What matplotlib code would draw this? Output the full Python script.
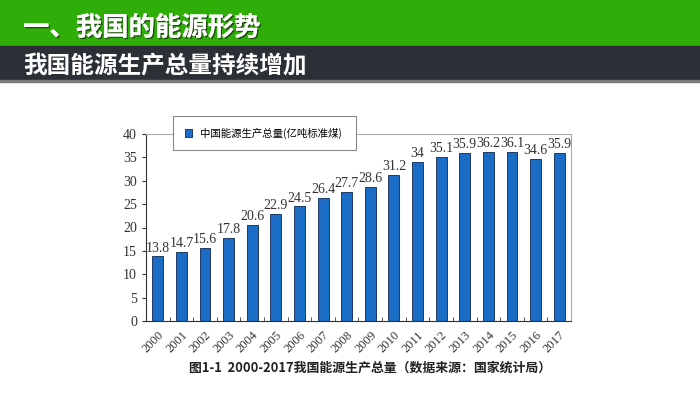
import matplotlib.pyplot as plt
import matplotlib.patches as mpatches
import matplotlib.patheffects as pe

plt.rcParams['font.family'] = ['Liberation Serif', 'Noto Sans CJK SC']

# 数据
years = ['2000', '2001', '2002', '2003', '2004', '2005', '2006', '2007', '2008',
         '2009', '2010', '2011', '2012', '2013', '2014', '2015', '2016', '2017']
output = [13.8, 14.7, 15.6, 17.8, 20.6, 22.9, 24.5, 26.4, 27.7,
          28.6, 31.2, 34, 35.1, 35.9, 36.2, 36.1, 34.6, 35.9]
yticks = [0, 5, 10, 15, 20, 25, 30, 35, 40]

fig = plt.figure(figsize=(7, 3.93), dpi=100)

# 顶部标题栏
fig.patches.append(mpatches.Rectangle((0, 1 - 46 / 393), 1, 46 / 393, transform=fig.transFigure,
                                      color='#2fae0a', zorder=0))
fig.patches.append(mpatches.Rectangle((0, 1 - 80 / 393), 1, 34 / 393, transform=fig.transFigure,
                                      color='#2a3035', zorder=0))
fig.patches.append(mpatches.Rectangle((0, 1 - 81.5 / 393), 1, 1.5 / 393, transform=fig.transFigure,
                                      color='#7a7a7a', zorder=0))
shadow = [pe.withSimplePatchShadow(offset=(1, -1), shadow_rgbFace='#1a3a10', alpha=0.8), pe.Normal()]
fig.text(23 / 700, 1 - 28 / 393, '一、我国的能源形势', color='white', fontsize=19, fontweight='bold',
         family='Noto Sans CJK SC', va='center', ha='left', path_effects=shadow)
fig.text(23 / 700, 1 - 66 / 393, '我国能源生产总量持续增加', color='white', fontsize=17, fontweight='bold',
         family='Noto Sans CJK SC', va='center', ha='left')

ax = fig.add_axes([146 / 700, 1 - 321 / 393, 425 / 700, 187 / 393])
x = range(len(years))
bars = ax.bar(x, output, width=0.46, color='#1a6cc4', edgecolor='#1d3b66', linewidth=0.7,
              label='中国能源生产总量(亿吨标准煤)')
for xi, v in zip(x, output):
    ax.text(xi, v + 0.4, f'{v:g}', ha='center', va='bottom', fontsize=10, color='#333333')

ax.set_xlim(-0.5, len(years) - 0.5)
ax.set_ylim(0, 40)
ax.set_yticks(yticks)
ax.tick_params(axis='y', direction='out', length=3, labelsize=10, colors='#333333')
ax.set_xticks([i - 0.5 for i in range(1, len(years))], minor=True)
ax.set_xticks(list(x))
ax.set_xticklabels(years, rotation=45, ha='right', rotation_mode='anchor', fontsize=9, color='#333333')
ax.tick_params(axis='x', which='major', length=0, pad=6)
ax.tick_params(axis='x', which='minor', direction='in', length=3, color='#333333')
for s in ['top', 'right']:
    ax.spines[s].set_color('#aaaaaa')
for s in ['left', 'bottom']:
    ax.spines[s].set_color('#333333')

leg = ax.legend(loc='center', bbox_to_anchor=(0.052, 0.92, 0.454, 0.17), mode='expand',
                frameon=True, fancybox=False, edgecolor='#888888', framealpha=1,
                handlelength=0.7, handleheight=0.7, borderpad=1.1, prop={'family': 'Noto Sans CJK SC', 'size': 7.5})
leg.get_frame().set_linewidth(0.8)
leg.set_zorder(5)

fig.text(370 / 700, 1 - 368 / 393, '图1-1  2000-2017我国能源生产总量（数据来源：国家统计局）',
         ha='center', va='center', fontsize=9.3, fontweight='bold', family='Noto Sans CJK SC', color='#222222')

fig.savefig('out.png', dpi=100)
